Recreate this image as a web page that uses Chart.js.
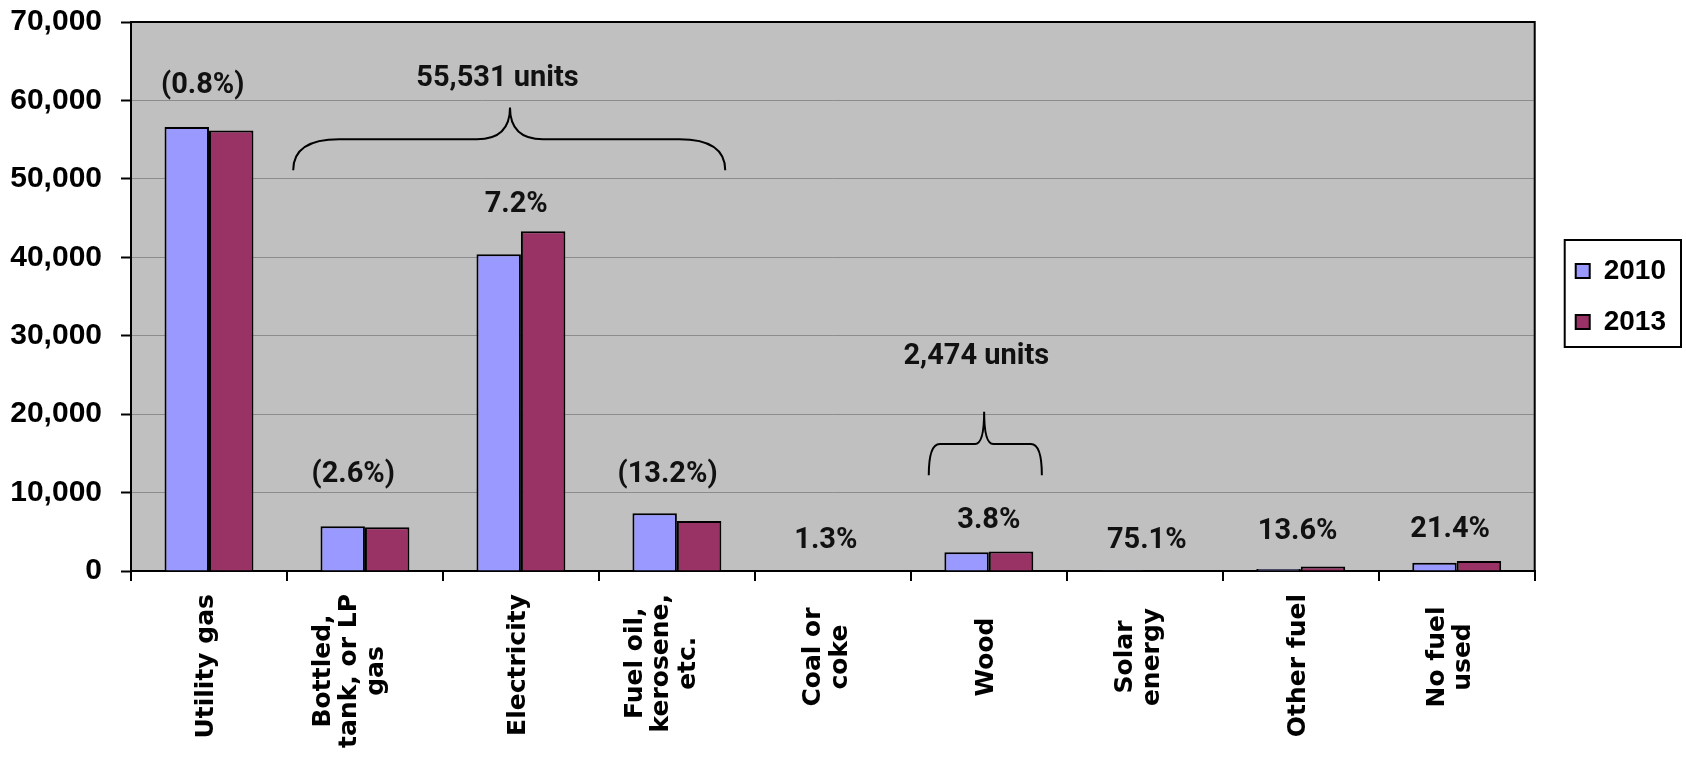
<!DOCTYPE html>
<html>
<head>
<meta charset="utf-8">
<script src="https://cdn.jsdelivr.net/npm/chart.js@4.4.1/dist/chart.umd.min.js"></script>
<style>
  html, body { margin: 0; padding: 0; background: #ffffff; }
  #wrap { width: 1686px; height: 761px; position: relative; }
</style>
</head>
<body>
<div id="wrap"><canvas id="fuelChart" width="1686" height="761"></canvas></div>
<script>
// House heating fuel, occupied units, 2010 vs 2013
const categories = [
  ["Utility gas"],
  ["Bottled,", "tank, or LP", "gas"],
  ["Electricity"],
  ["Fuel oil,", "kerosene,", "etc."],
  ["Coal or", "coke"],
  ["Wood"],
  ["Solar", "energy"],
  ["Other fuel"],
  ["No fuel", "used"]
];
const seriesNames = ["2010", "2013"];
const units2010 = [56620, 5720, 40400, 7350, 77, 2383, 20, 250, 1060];
const units2013 = [56170, 5570, 43310, 6380, 78, 2474, 35, 560, 1290];
const changeLabels = ["(0.8%)", "(2.6%)", "7.2%", "(13.2%)", "1.3%", "3.8%", "75.1%", "13.6%", "21.4%"];
const yTickValues = [0, 10000, 20000, 30000, 40000, 50000, 60000, 70000];
const groupTotals = ["55,531 units", "2,474 units"];

// Placement of the change labels: offset from the category centre and height in axis units
const changeLabelPlacement = [
  { dx: -0.04, y: 61900 },
  { dx: -0.075, y: 12300 },
  { dx: -0.03, y: 46700 },
  { dx: -0.06, y: 12300 },
  { dx: -0.045, y: 3900 },
  { dx: 0.0, y: 6400 },
  { dx: 0.013, y: 3900 },
  { dx: -0.02, y: 5000 },
  { dx: -0.042, y: 5250 }
];
// Curly braces grouping categories: x in category units, heights in axis units
const bracePlacement = [
  { from: 0.54, to: 3.31, tip: 1.93, ends: 51100, bar: 55050, peak: 59100, r1: 46, r2: 33, textX: 1.85, textY: 62800 },
  { from: 4.615, to: 5.34, tip: 4.97, ends: 12200, bar: 16200, peak: 20300, r1: 11, r2: 9, textX: 4.92, textY: 27300 }
];

const FONT_AXIS = "'Liberation Sans', Arial, sans-serif";
const FONT_CAT = "'DejaVu Sans', Verdana, sans-serif";
const FONT_NOTE = "Roboto, 'Liberation Sans', sans-serif";
const LEGEND_GAP = 18;
const CAT_FONT_SIZE = 25;
const CAT_LINE = 26.5;

const plotDecor = {
  id: 'plotDecor',
  beforeInit(chart) {
    // widen the legend box so it sits apart from the plot area
    const legend = chart.legend;
    if (legend) {
      const fit = legend.fit;
      legend.fit = function () {
        fit.call(this);
        this.width += LEGEND_GAP;
      };
    }
  },
  afterLayout(chart) {
    const legend = chart.legend;
    if (legend) {
      legend.left += LEGEND_GAP;
      legend.right += LEGEND_GAP;
    }
  },
  beforeDraw(chart) {
    const { ctx, chartArea: a } = chart;
    ctx.save();
    ctx.fillStyle = '#c0c0c0';
    ctx.fillRect(a.left, a.top, a.right - a.left, a.bottom - a.top);
    ctx.restore();
  },
  afterDraw(chart) {
    const { ctx, chartArea: a } = chart;
    const xs = chart.scales.x, ys = chart.scales.y;
    const step = xs.getPixelForValue(1) - xs.getPixelForValue(0);
    const catPx = (c) => xs.getPixelForValue(0) + c * step;

    ctx.save();
    // plot frame (top and right)
    ctx.strokeStyle = '#000';
    ctx.lineWidth = 2;
    ctx.beginPath();
    ctx.moveTo(a.left, a.top);
    ctx.lineTo(a.right, a.top);
    ctx.lineTo(a.right, a.bottom);
    ctx.stroke();

    // category names, rotated, lines centred on each other
    ctx.fillStyle = '#000';
    ctx.font = "bold " + CAT_FONT_SIZE + "px " + FONT_CAT;
    ctx.textAlign = 'center';
    ctx.textBaseline = 'middle';
    const start = xs.top + 23;
    const blockShift = [0, -2, -6, -15];
    chart.data.labels.forEach((lines, i) => {
      const c = xs.getPixelForTick(i);
      const n = lines.length;
      const longest = Math.max(...lines.map(l => ctx.measureText(l).width));
      const yc = Math.max(xs.top + 86, start + longest / 2);
      const shift = blockShift[Math.min(n, 3)];
      lines.forEach((line, j) => {
        ctx.save();
        ctx.translate(c + shift + (j - (n - 1) / 2) * CAT_LINE, yc);
        ctx.rotate(-Math.PI / 2);
        ctx.fillText(line, 0, 0);
        ctx.restore();
      });
    });

    // change labels
    ctx.fillStyle = '#111';
    ctx.font = "bold 29px " + FONT_NOTE;
    changeLabels.forEach((t, i) => {
      const p = changeLabelPlacement[i];
      ctx.fillText(t, catPx(i + p.dx), ys.getPixelForValue(p.y));
    });

    // braces with totals
    ctx.strokeStyle = '#000';
    ctx.lineWidth = 2;
    bracePlacement.forEach((b, i) => {
      const x0 = catPx(b.from), x1 = catPx(b.to), xt = catPx(b.tip);
      const ye = ys.getPixelForValue(b.ends), yb = ys.getPixelForValue(b.bar), yp = ys.getPixelForValue(b.peak);
      ctx.beginPath();
      ctx.moveTo(x0, ye);
      ctx.quadraticCurveTo(x0, yb, x0 + b.r1, yb);
      ctx.lineTo(xt - b.r2, yb);
      ctx.quadraticCurveTo(xt, yb, xt, yp);
      ctx.quadraticCurveTo(xt, yb, xt + b.r2, yb);
      ctx.lineTo(x1 - b.r1, yb);
      ctx.quadraticCurveTo(x1, yb, x1, ye);
      ctx.stroke();
      ctx.fillText(groupTotals[i], catPx(b.textX), ys.getPixelForValue(b.textY));
    });

    // legend frame
    const lg = chart.legend;
    if (lg && lg.legendHitBoxes && lg.legendHitBoxes.length) {
      const hb = lg.legendHitBoxes;
      const first = hb[0], last = hb[hb.length - 1];
      const w = Math.max(...hb.map(h => h.width));
      ctx.strokeStyle = '#000';
      ctx.lineWidth = 2;
      ctx.strokeRect(first.left - 11, first.top - 17, w + 26, last.top + last.height - first.top + 28);
    }
    ctx.restore();
  }
};

const ctx = document.getElementById('fuelChart').getContext('2d');
new Chart(ctx, {
  type: 'bar',
  data: {
    labels: categories,
    datasets: [
      { label: seriesNames[0], data: units2010, backgroundColor: '#9999ff', borderColor: '#000', borderWidth: 2 },
      { label: seriesNames[1], data: units2013, backgroundColor: '#993366', borderColor: '#000', borderWidth: 2 }
    ]
  },
  options: {
    responsive: false,
    animation: false,
    devicePixelRatio: 1,
    datasets: { bar: { barPercentage: 1.0, categoryPercentage: 0.57 } },
    layout: { padding: { left: 10, top: 22, right: 10, bottom: 0 } },
    plugins: {
      legend: {
        position: 'right',
        fullSize: false,
        align: 'center',
        labels: {
          color: '#000',
          boxWidth: 14,
          boxHeight: 14,
          padding: 23,
          font: { family: FONT_AXIS, weight: 'bold', size: 28 }
        }
      },
      tooltip: { enabled: false }
    },
    scales: {
      x: {
        grid: { offset: true, drawOnChartArea: false, color: '#000', lineWidth: 2, tickLength: 10 },
        border: { color: '#000', width: 2 },
        ticks: { display: false, autoSkip: false },
        afterFit(scale) { scale.height = 190; }
      },
      y: {
        min: 0,
        max: 70000,
        afterBuildTicks(scale) { scale.ticks = yTickValues.map(v => ({ value: v })); },
        afterFit(scale) {
          scale.width = 121;
          scale.paddingTop = 0;
          scale.paddingBottom = 0;
        },
        ticks: {
          padding: 19,
          color: '#000',
          font: { family: FONT_AXIS, weight: 'bold', size: 30 },
          callback: (v) => Number(v).toLocaleString('en-US')
        },
        grid: { color: '#8c8c8c', lineWidth: 1, tickColor: '#000', tickWidth: 2, tickLength: 10 },
        border: { color: '#000', width: 2 }
      }
    }
  },
  plugins: [plotDecor]
});
</script>
</body>
</html>
